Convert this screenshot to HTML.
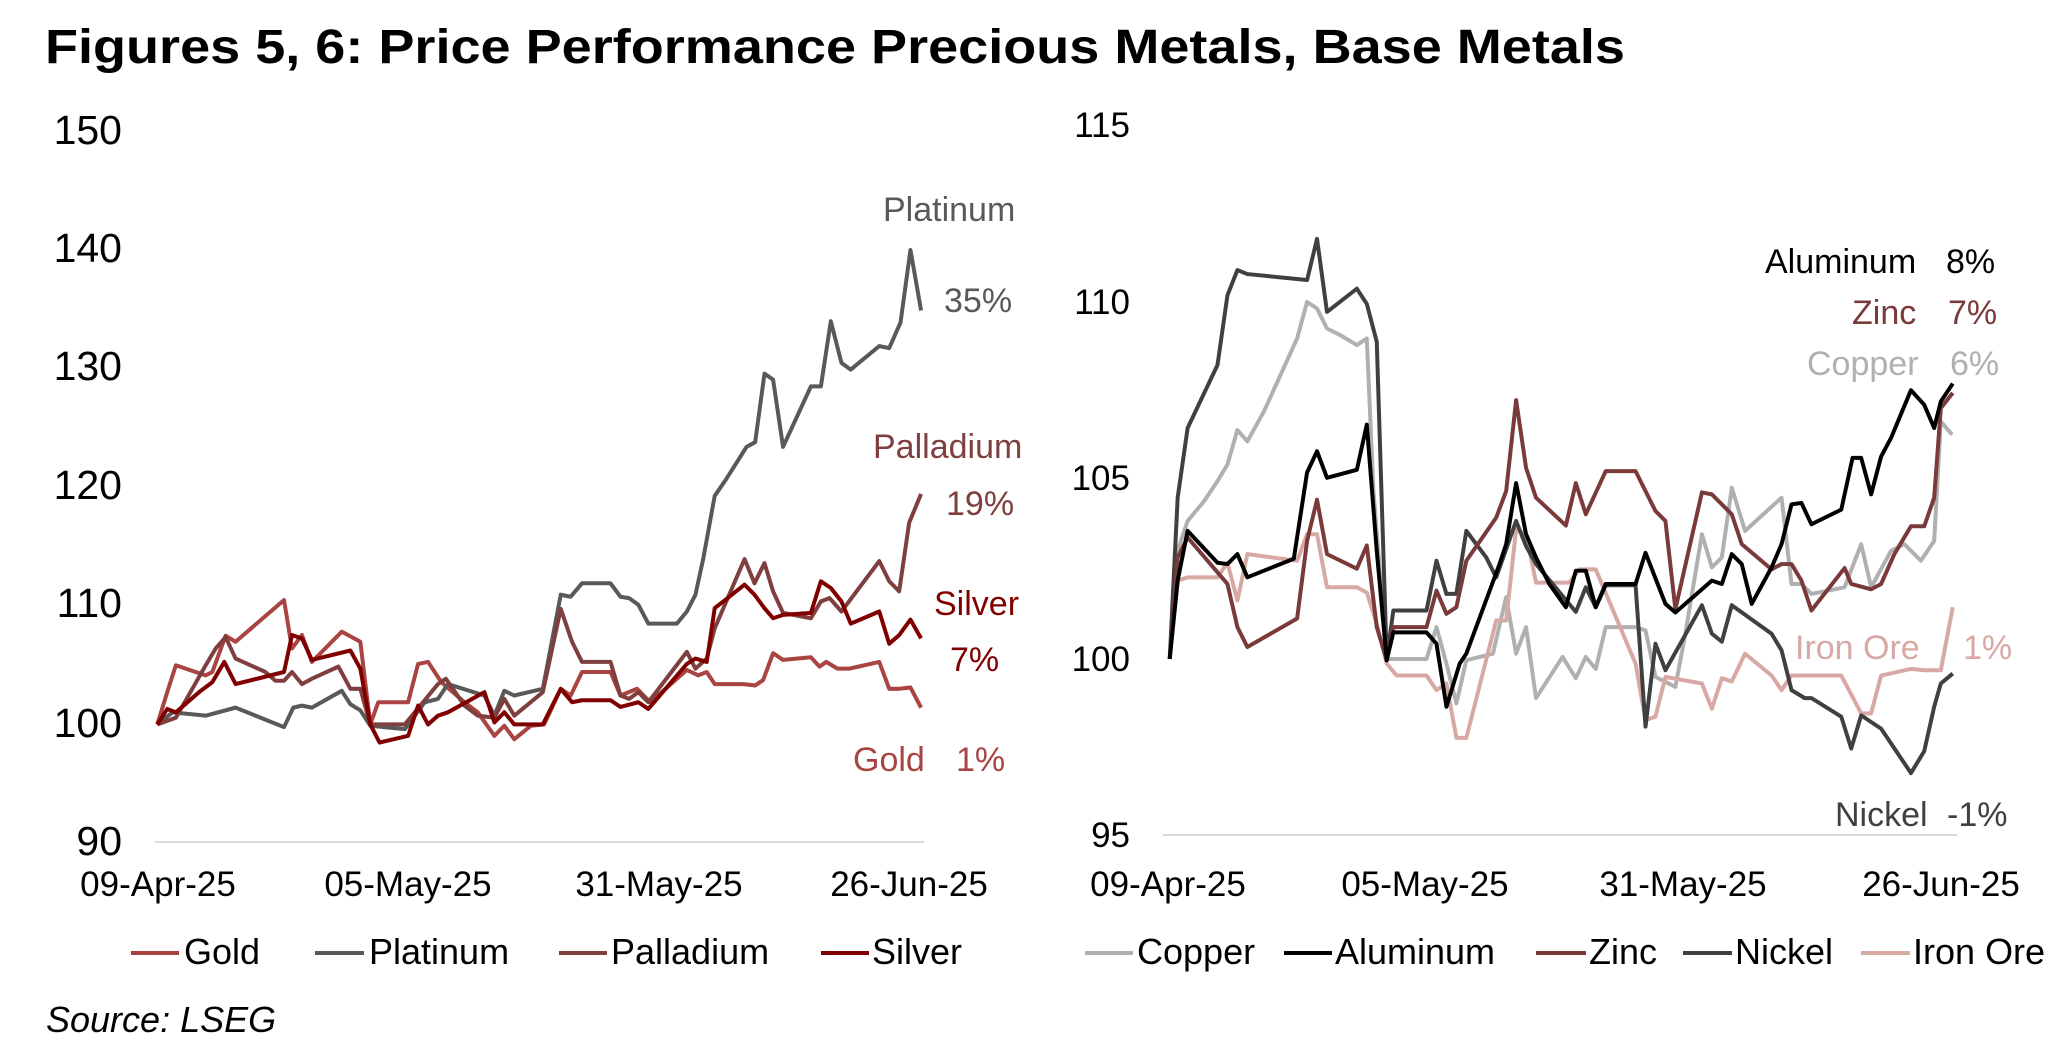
<!DOCTYPE html>
<html><head><meta charset="utf-8"><style>
html,body{margin:0;padding:0;background:#fff;}
svg{display:block;}
text{font-family:"Liberation Sans",Arial,sans-serif;}
</style></head><body>
<svg width="2069" height="1051" viewBox="0 0 2069 1051" xmlns="http://www.w3.org/2000/svg">
<text x="45" y="63" font-size="48" font-weight="bold" textLength="1580" lengthAdjust="spacingAndGlyphs">Figures 5, 6: Price Performance Precious Metals, Base Metals</text>

<!-- LEFT CHART -->
<line x1="155" y1="842" x2="924" y2="842" stroke="#d9d9d9" stroke-width="2"/>
<g font-size="41" text-anchor="end" fill="#000">
<text x="122" y="144">150</text><text x="122" y="262">140</text><text x="122" y="380">130</text>
<text x="122" y="499">120</text><text x="122" y="617">110</text><text x="122" y="737">100</text><text x="122" y="855">90</text>
</g>
<g font-size="35" text-anchor="middle">
<text x="158" y="896">09-Apr-25</text><text x="408" y="896">05-May-25</text>
<text x="659" y="896">31-May-25</text><text x="909" y="896">26-Jun-25</text>
</g>
<g transform="scale(0.6636,0.672)" fill="none" stroke-width="6" stroke-linejoin="round">
<polyline stroke="#a94442" points="237,1078 252,1030 265,990 310,1005 320,1000 340,946 355,955 428,893 440,965 455,945 470,985 515,940 543,955 558,1078 570,1045 615,1045 630,988 645,985 665,1015 700,1045 720,1060 745,1095 760,1080 775,1100 800,1080 820,1078 845,1025 860,1035 877,1000 920,1000 935,1035 960,1025 980,1045 1035,997 1052,1005 1065,1000 1077,1018 1120,1018 1138,1020 1150,1012 1165,972 1180,982 1222,978 1235,992 1245,985 1262,995 1280,995 1325,985 1340,1025 1355,1025 1372,1023 1388,1053"/>
<polyline stroke="#595959" points="237,1078 260,1060 310,1065 355,1053 428,1082 442,1053 455,1050 470,1053 515,1028 528,1048 543,1057 558,1080 610,1085 640,1045 660,1040 675,1018 730,1035 745,1065 760,1028 775,1035 818,1025 845,885 860,888 877,868 920,868 935,888 948,890 962,900 977,928 1020,928 1035,910 1048,885 1060,830 1077,738 1095,712 1125,665 1138,658 1152,556 1165,565 1180,665 1222,575 1237,575 1252,478 1268,540 1282,550 1325,515 1340,518 1357,480 1372,372 1388,462"/>
<polyline stroke="#7f3f3f" points="237,1078 265,1068 310,990 325,965 340,948 355,980 400,1000 415,1013 428,1013 440,1000 455,1018 470,1010 510,992 528,1025 543,1025 558,1078 610,1078 640,1042 660,1018 672,1010 700,1050 720,1065 745,1068 760,1040 775,1065 818,1030 845,906 862,955 877,985 920,985 935,1035 948,1040 962,1030 977,1045 1035,970 1048,995 1065,980 1077,935 1122,832 1137,868 1152,838 1165,880 1180,912 1222,920 1237,895 1250,890 1268,910 1325,835 1340,865 1355,880 1370,778 1388,735"/>
<polyline stroke="#800000" points="237,1078 252,1055 265,1060 300,1030 320,1015 338,985 355,1018 428,1000 440,945 455,950 470,982 528,968 543,995 558,1078 572,1105 615,1095 630,1050 645,1078 660,1065 675,1060 730,1030 745,1075 760,1060 775,1078 818,1078 845,1025 862,1045 877,1042 920,1042 935,1052 962,1045 977,1055 1035,988 1048,980 1065,985 1077,905 1090,895 1122,870 1137,885 1152,905 1165,920 1180,915 1222,912 1237,865 1252,875 1268,895 1282,928 1325,910 1340,958 1355,945 1372,922 1388,950"/>
</g>
<g font-size="34">
<text x="883" y="221" fill="#595959">Platinum</text><text x="944" y="312" fill="#595959">35%</text>
<text x="873" y="458" fill="#7f3f3f">Palladium</text><text x="946" y="515" fill="#7f3f3f">19%</text>
<text x="934" y="615" fill="#800000">Silver</text><text x="950" y="671" fill="#800000">7%</text>
<text x="853" y="771" fill="#a94442">Gold</text><text x="956" y="771" fill="#a94442">1%</text>
</g>
<g stroke-width="4">
<line x1="131" y1="953" x2="179" y2="953" stroke="#a94442"/>
<line x1="315" y1="953" x2="364" y2="953" stroke="#595959"/>
<line x1="559" y1="953" x2="607" y2="953" stroke="#7f3f3f"/>
<line x1="821" y1="953" x2="869" y2="953" stroke="#800000"/>
</g>
<g font-size="36">
<text x="184" y="964">Gold</text><text x="369" y="964">Platinum</text>
<text x="611" y="964">Palladium</text><text x="872" y="964">Silver</text>
</g>

<!-- RIGHT CHART -->
<line x1="1163" y1="835" x2="1957" y2="835" stroke="#d9d9d9" stroke-width="2"/>
<g font-size="35" text-anchor="end">
<text x="1130" y="137">115</text><text x="1130" y="314">110</text><text x="1130" y="490">105</text>
<text x="1130" y="671">100</text><text x="1130" y="847">95</text>
</g>
<g font-size="35" text-anchor="middle">
<text x="1168" y="896">09-Apr-25</text><text x="1425" y="896">05-May-25</text>
<text x="1683" y="896">31-May-25</text><text x="1941" y="896">26-Jun-25</text>
</g>
<g transform="translate(1035,0) scale(0.6636)" fill="none" stroke-width="6" stroke-linejoin="round">
<polyline stroke="#b0b0b0" points="203,993 215,830 230,785 255,755 275,725 290,700 305,648 320,665 345,620 395,510 410,455 425,465 440,495 460,505 485,520 500,510 510,740 530,993 590,993 605,945 620,1000 635,1060 650,995 670,990 690,985 710,900 725,985 740,945 755,1052 795,990 815,1022 830,990 845,1008 860,945 905,945 920,950 935,1020 965,1035 980,955 1005,805 1020,855 1035,840 1050,735 1070,800 1125,750 1140,880 1155,880 1170,895 1220,885 1245,820 1260,885 1290,830 1310,820 1335,845 1355,815 1365,635 1382,655"/>
<polyline stroke="#d8a8a4" points="203,993 215,875 230,870 275,870 290,848 305,905 320,835 395,845 410,805 425,805 440,885 485,885 500,893 515,940 530,1000 545,1018 590,1018 605,1040 620,1030 635,1112 650,1112 695,935 710,935 725,798 740,805 755,878 805,878 820,858 845,858 905,1000 920,1085 935,1080 950,1020 1005,1030 1020,1068 1035,1022 1050,1027 1070,985 1110,1018 1125,1040 1140,1018 1215,1018 1245,1075 1260,1075 1275,1018 1320,1008 1340,1010 1365,1010 1383,915"/>
<polyline stroke="#404040" points="203,993 215,750 230,645 275,550 290,445 305,407 320,413 410,422 425,360 440,470 485,435 500,458 515,515 530,993 540,920 590,920 605,845 620,895 635,895 650,800 680,840 695,870 725,785 740,823 755,850 815,922 830,885 845,915 860,882 905,882 920,1095 935,970 950,1010 1005,912 1020,955 1035,967 1050,912 1110,955 1125,980 1140,1040 1160,1052 1170,1052 1215,1080 1230,1128 1245,1078 1275,1098 1320,1165 1340,1132 1355,1065 1365,1030 1383,1015"/>
<polyline stroke="#7a3a3a" points="203,993 215,840 230,810 290,880 305,945 320,975 395,932 410,815 425,753 440,835 485,857 500,822 515,945 530,995 540,945 590,945 605,890 620,925 635,915 650,845 695,780 710,740 725,603 740,705 755,750 800,792 815,728 830,775 860,710 905,710 935,770 950,785 965,918 1005,742 1020,745 1050,775 1065,820 1110,858 1125,850 1140,850 1155,875 1170,920 1220,856 1230,880 1260,888 1275,880 1295,835 1320,793 1340,793 1355,750 1365,615 1383,592"/>
<polyline stroke="#000" points="203,993 215,875 230,800 275,848 290,850 305,835 320,870 390,842 410,712 425,680 440,720 485,708 500,640 515,830 530,995 540,953 590,953 605,970 620,1065 640,1000 650,985 700,850 710,820 725,728 740,805 755,840 775,880 800,915 815,860 830,860 845,915 860,880 905,880 920,833 950,910 965,923 1020,875 1035,880 1050,835 1065,850 1080,910 1110,855 1125,820 1140,760 1155,758 1170,790 1215,768 1232,690 1245,690 1260,745 1275,688 1290,660 1320,588 1340,610 1355,645 1365,605 1383,578"/>
</g>
<g font-size="34">
<text x="1765" y="273" fill="#000">Aluminum</text><text x="1946" y="273" fill="#000">8%</text>
<text x="1852" y="324" fill="#7a3a3a">Zinc</text><text x="1948" y="324" fill="#7a3a3a">7%</text>
<text x="1807" y="375" fill="#b0b0b0">Copper</text><text x="1950" y="375" fill="#b0b0b0">6%</text>
<text x="1795" y="659" fill="#d8a8a4">Iron Ore</text><text x="1963" y="659" fill="#d8a8a4">1%</text>
<text x="1835" y="826" fill="#404040">Nickel</text><text x="1947" y="826" fill="#404040">-1%</text>
</g>
<g stroke-width="4">
<line x1="1085" y1="953" x2="1133" y2="953" stroke="#b0b0b0"/>
<line x1="1284" y1="953" x2="1332" y2="953" stroke="#000"/>
<line x1="1536" y1="953" x2="1586" y2="953" stroke="#7a3a3a"/>
<line x1="1683" y1="953" x2="1732" y2="953" stroke="#404040"/>
<line x1="1861" y1="953" x2="1910" y2="953" stroke="#d8a8a4"/>
</g>
<g font-size="36">
<text x="1137" y="964">Copper</text><text x="1335" y="964">Aluminum</text>
<text x="1589" y="964">Zinc</text><text x="1735" y="964">Nickel</text><text x="1913" y="964">Iron Ore</text>
</g>

<text x="46" y="1032" font-size="36" font-style="italic">Source: LSEG</text>
</svg>
</body></html>
